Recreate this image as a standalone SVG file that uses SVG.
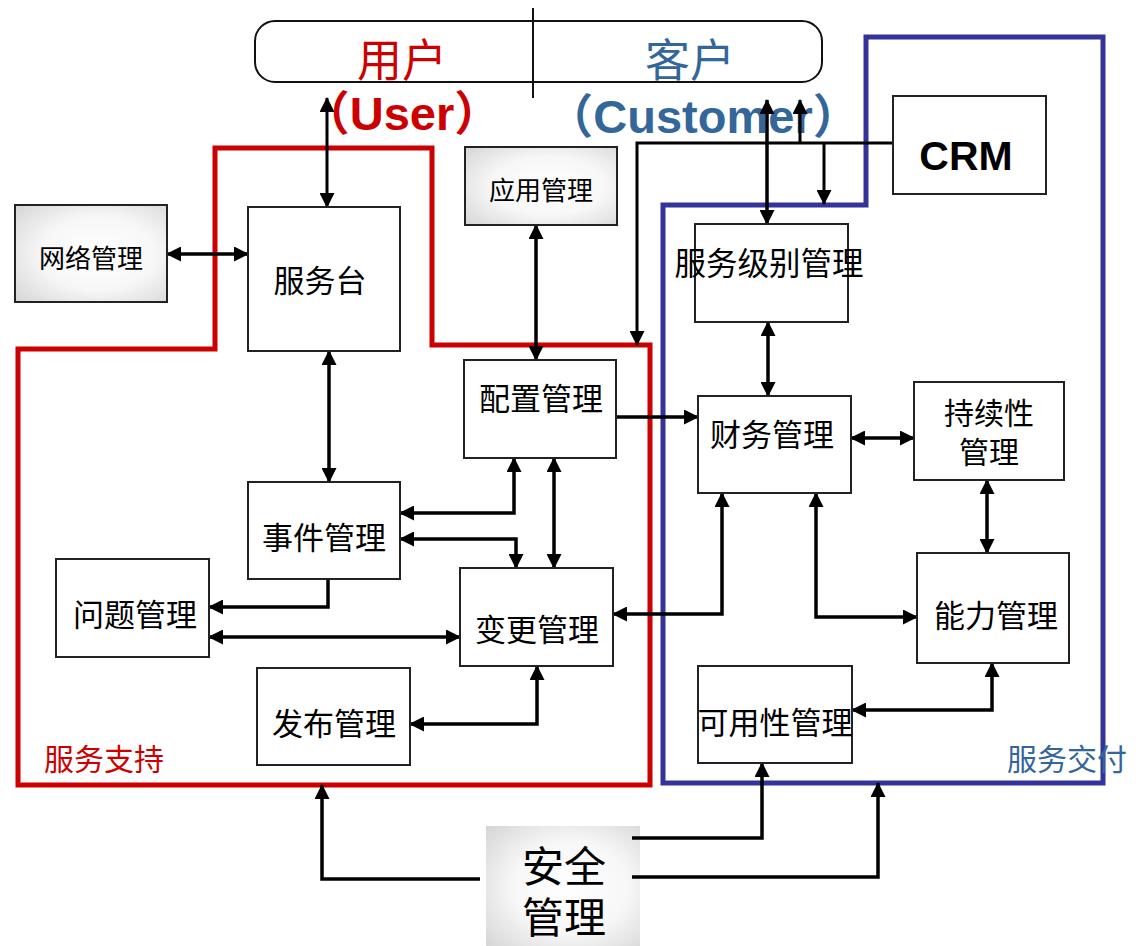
<svg xmlns="http://www.w3.org/2000/svg" width="1142" height="946" viewBox="0 0 1142 946">
<defs>
<style>
.box{fill:#fff;stroke:#222;stroke-width:2}
.shade{fill:url(#g);stroke:#222;stroke-width:2}
.t{font-family:"Noto Sans CJK SC",sans-serif;font-size:31px;fill:#000;text-anchor:middle;dominant-baseline:central}
.c{fill:none;stroke:#000;stroke-width:3.5}
.both{marker-start:url(#ah);marker-end:url(#ah)}
.end{marker-end:url(#ah)}
</style>
<radialGradient id="g" cx="55%" cy="50%" r="75%">
<stop offset="0" stop-color="#ffffff"/>
<stop offset="0.5" stop-color="#f7f7f7"/>
<stop offset="1" stop-color="#d4d4d4"/>
</radialGradient>
<marker id="ah" viewBox="0 0 15 15" refX="14" refY="7.5" markerWidth="15" markerHeight="15" markerUnits="userSpaceOnUse" orient="auto-start-reverse">
<path d="M0,0 L15,7.5 L0,15 z" fill="#000"/>
</marker>
</defs>
<rect width="1142" height="946" fill="#fff"/>

<g id="boundaries">
<polygon id="service-support" points="215,148 432,148 432,345 650,345 650,785 18,785 18,349 215,349" fill="none" stroke="#cc0000" stroke-width="5"/>
<polygon id="service-delivery" points="866,37 1103,37 1103,783 663,783 663,205 866,205" fill="none" stroke="#333399" stroke-width="5"/>
<text x="44" y="757" font-family="Noto Sans CJK SC,sans-serif" font-size="30" fill="#cc0000" dominant-baseline="central">服务支持</text>
<text x="1007" y="757" font-family="Noto Sans CJK SC,sans-serif" font-size="30" fill="#336699" dominant-baseline="central">服务交付</text>
</g>

<g id="user-customer">
<rect x="255" y="21" width="567" height="61" rx="20" fill="#fff" stroke="#111" stroke-width="2"/>
<line x1="533" y1="8" x2="533" y2="98" stroke="#111" stroke-width="2"/>
<text x="402" y="57" font-family="Noto Sans CJK SC,sans-serif" font-size="45" fill="#cc0000" text-anchor="middle" dominant-baseline="central">用户</text>
<text x="690" y="57" font-family="Noto Sans CJK SC,sans-serif" font-size="45" fill="#336699" text-anchor="middle" dominant-baseline="central">客户</text>
<text x="402" y="130" font-family="Liberation Sans,Noto Sans CJK SC,sans-serif" font-size="47" font-weight="bold" fill="#cc0000" text-anchor="middle">（User）</text>
<text x="703" y="133" font-family="Liberation Sans,Noto Sans CJK SC,sans-serif" font-size="47" font-weight="bold" fill="#336699" text-anchor="middle">（Customer）</text>
</g>

<g id="security">
<rect x="486" y="826" width="154" height="122" fill="url(#g)"/>
<text class="t" style="font-size:42px"><tspan x="564" y="863">安全</tspan><tspan x="564" y="914">管理</tspan></text>
</g>

<g id="connectors">
<path class="c both" d="M327,98 L327,207" style="stroke-width:3"/>
<path class="c both" d="M167,254 L248,254"/>
<path class="c both" d="M536,225 L536,360"/>
<path class="c both" d="M329,351 L329,482"/>
<path class="c end" d="M893,143 L637,143 L637,345" style="stroke-width:3"/>
<path class="c end" d="M800,143 L800,100" style="stroke-width:3"/>
<path class="c end" d="M824,143 L824,204" style="stroke-width:3"/>
<path class="c both" d="M767,100 L767,224"/>
<path class="c both" d="M768,322 L768,396"/>
<path class="c end" d="M616,417 L698,417"/>
<path class="c both" d="M851,438 L914,438"/>
<path class="c both" d="M987,480 L987,553"/>
<path class="c both" d="M816,493 L816,617 L917,617"/>
<path class="c both" d="M722,493 L722,614 L613,614"/>
<path class="c both" d="M992,663 L992,710 L852,710"/>
<path class="c both" d="M514,458 L514,513 L400,513"/>
<path class="c both" d="M400,539 L516,539 L516,568"/>
<path class="c both" d="M554,458 L554,568"/>
<path class="c end" d="M328,579 L328,607 L209,607"/>
<path class="c both" d="M209,637 L460,637"/>
<path class="c both" d="M537,666 L537,724 L410,724"/>
<path class="c end" d="M480,879 L322,879 L322,785"/>
<path class="c end" d="M632,838 L762,838 L762,763"/>
<path class="c end" d="M632,877 L878,877 L878,783"/>
</g>

<g id="network"><rect class="shade" x="15" y="205" width="152" height="97"/><text class="t" x="91" y="256" style="font-size:26px">网络管理</text></g>
<g id="service-desk"><rect class="box" x="248" y="207" width="152" height="144"/><text class="t" x="320" y="278">服务台</text></g>
<g id="application"><rect class="shade" x="465" y="147" width="152" height="78"/><text class="t" x="541" y="188" style="font-size:26px">应用管理</text></g>
<g id="crm"><rect class="box" x="893" y="96" width="153" height="98"/><text x="966" y="170" font-family="Liberation Sans,sans-serif" font-size="41" font-weight="bold" text-anchor="middle">CRM</text></g>
<g id="slm"><rect class="box" x="695" y="224" width="153" height="98"/><text class="t" x="769" y="261" style="font-size:31.5px">服务级别管理</text></g>
<g id="config"><rect class="box" x="464" y="360" width="152" height="98"/><text class="t" x="541" y="396">配置管理</text></g>
<g id="finance"><rect class="box" x="698" y="396" width="153" height="97"/><text class="t" x="772" y="432">财务管理</text></g>
<g id="continuity"><rect class="box" x="914" y="382" width="150" height="98"/><text class="t" style="font-size:30px"><tspan x="989" y="411">持续性</tspan><tspan x="989" y="450">管理</tspan></text></g>
<g id="incident"><rect class="box" x="248" y="482" width="152" height="97"/><text class="t" x="324" y="535">事件管理</text></g>
<g id="problem"><rect class="box" x="56" y="559" width="153" height="98"/><text class="t" x="135" y="612">问题管理</text></g>
<g id="change"><rect class="box" x="460" y="568" width="153" height="98"/><text class="t" x="537" y="627">变更管理</text></g>
<g id="capacity"><rect class="box" x="917" y="553" width="152" height="110"/><text class="t" x="996" y="613">能力管理</text></g>
<g id="release"><rect class="box" x="257" y="668" width="153" height="97"/><text class="t" x="334" y="721">发布管理</text></g>
<g id="availability"><rect class="box" x="698" y="666" width="154" height="97"/><text class="t" x="775" y="720">可用性管理</text></g>
</svg>
